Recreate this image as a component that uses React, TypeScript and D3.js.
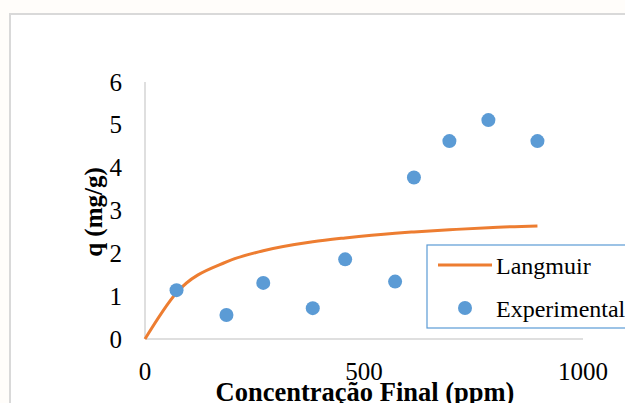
import React from "react";
import * as d3 from "d3";

const expC = [72, 186, 270, 383, 457, 571, 614, 695, 784, 896];
const expQ = [1.14, 0.56, 1.31, 0.72, 1.86, 1.34, 3.77, 4.62, 5.11, 4.62];
const langC = [0, 72, 186, 270, 383, 457, 571, 614, 695, 784, 896];
const langQ = [0, 1.08, 1.8, 2.06, 2.27, 2.36, 2.47, 2.5, 2.55, 2.6, 2.64];
const xTicks = [0, 500, 1000];
const yTicks = [0, 1, 2, 3, 4, 5, 6];

const W = 625;
const H = 403;
const FONT = '"Liberation Serif", "Times New Roman", "DejaVu Serif", serif';
const ts = { fontFamily: FONT };

export default function App() {
  const x = d3.scaleLinear().domain([0, 1000]).range([145, 583]);
  const y = d3.scaleLinear().domain([0, 6]).range([339, 82]);
  const line = d3
    .line<number>()
    .x((_, i) => x(langC[i]))
    .y((d) => y(d))
    .curve(d3.curveMonotoneX);
  return (
    <svg
      width={W}
      height={H}
      style={{ position: "absolute", left: 0, top: 0, fontFamily: FONT }}
    >
      <rect x={0} y={0} width={W} height={H} fill="#fffdfa" />
      <rect x={10} y={14} width={700} height={500} fill="#ffffff" stroke="#d9d9d9" strokeWidth={2} />
      <line x1={x(0)} x2={x(0)} y1={y(6)} y2={y(0)} stroke="#bfbfbf" strokeWidth={1} />
      <line x1={x(0)} x2={x(1000)} y1={y(0)} y2={y(0)} stroke="#bfbfbf" strokeWidth={1} />
      {yTicks.map((t) => (
        <text key={t} x={122} y={y(t) + 8.5} textAnchor="end" fontSize={25} fill="#000" style={ts}>
          {t}
        </text>
      ))}
      {xTicks.map((t) => (
        <text key={t} x={x(t)} y={380} textAnchor="middle" fontSize={25} fill="#000" style={ts}>
          {t}
        </text>
      ))}
      <text
        transform={`translate(102,212) rotate(-90)`}
        textAnchor="middle"
        fontSize={25}
        fontWeight="bold"
        fill="#000"
        style={ts}
      >
        q (mg/g)
      </text>
      <text x={365} y={401} textAnchor="middle" fontSize={26.5} fontWeight="bold" fill="#000" style={ts}>
        Concentração Final (ppm)
      </text>
      <path d={line(langQ) || ""} fill="none" stroke="#ed7d31" strokeWidth={3} />
      {expC.map((c, i) => (
        <circle key={i} cx={x(c)} cy={y(expQ[i])} r={7} fill="#5b9bd5" />
      ))}
      <rect x={427} y={245} width={250} height={83} fill="#ffffff" stroke="#5b9bd5" strokeWidth={1.2} />
      <line x1={438} x2={492} y1={265} y2={265} stroke="#ed7d31" strokeWidth={3} />
      <text x={496} y={274} fontSize={24} fill="#000" style={ts}>
        Langmuir
      </text>
      <circle cx={465} cy={308} r={7} fill="#5b9bd5" />
      <text x={496} y={317} fontSize={24} fill="#000" style={ts}>
        Experimental
      </text>
    </svg>
  );
}
